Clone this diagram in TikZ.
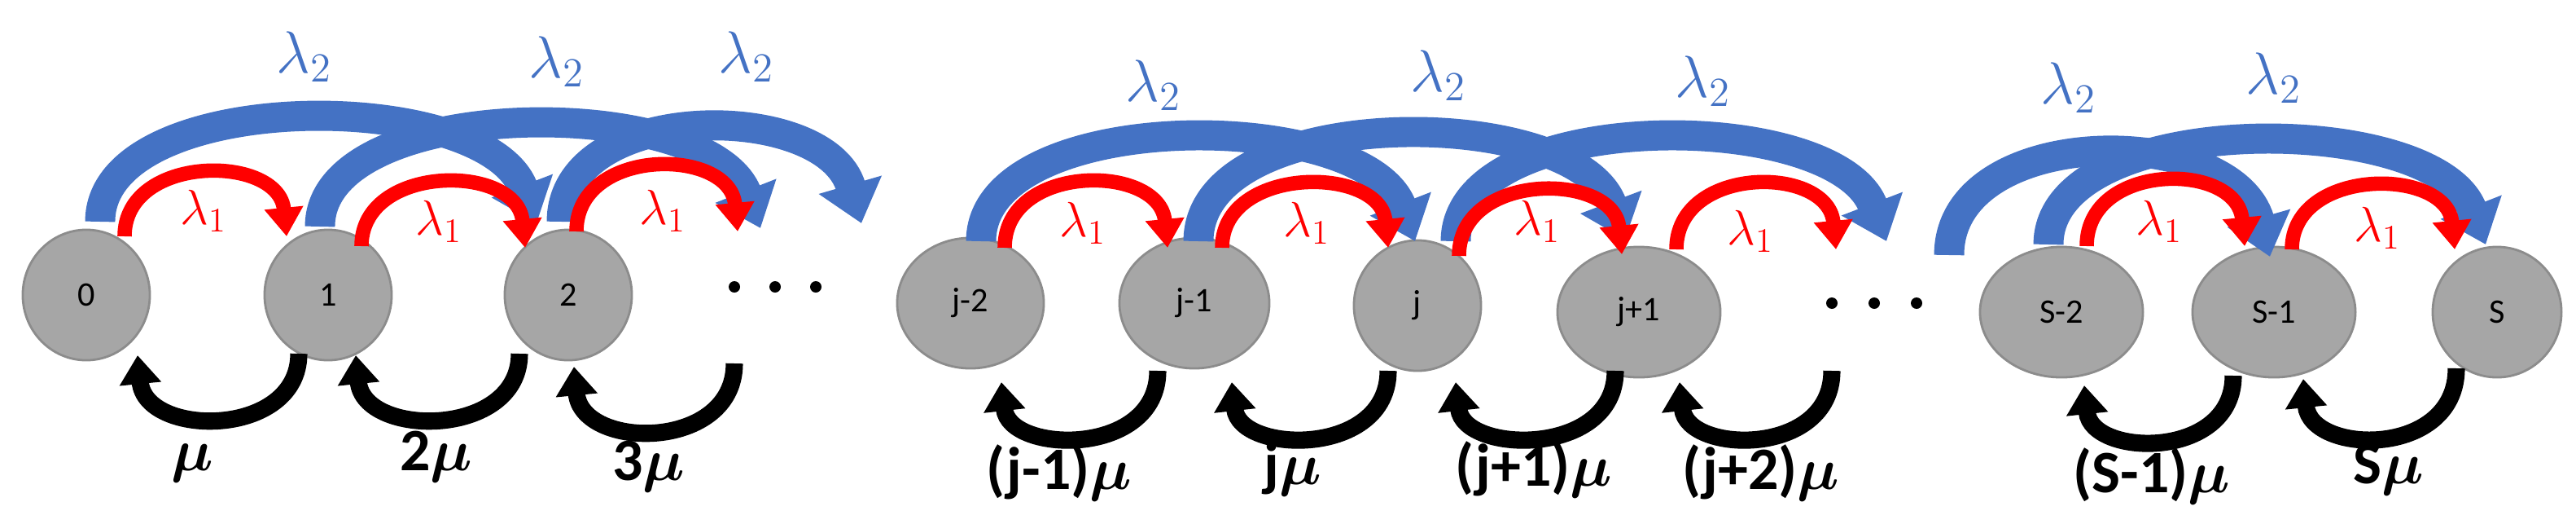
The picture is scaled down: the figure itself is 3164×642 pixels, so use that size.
\documentclass[tikz,border=0pt]{standalone}
\usepackage{fontspec}
\setmainfont{Carlito}
\usetikzlibrary{arrows.meta,shapes.geometric}
\definecolor{bl}{HTML}{4472C4}
\definecolor{gr}{HTML}{A6A6A6}
\definecolor{grb}{HTML}{8C8C8C}
\newcommand\myarc[7]{% style, sx, sy, top, ex, ey, shift
  \draw[#1] (#2,#3) .. controls (#2,{#3-4/3*(#3-(#4))}) and ({#5-#7*(#5-#2)},{#6-4/3*(#6-(#4))}) .. (#5,#6);}
\newcommand\blarc[5]{\myarc{blarr}{#1}{#2}{#3+18}{#4}{#5}{0.12}}
\begin{document}
\begin{tikzpicture}[x=0.01cm,y=-0.01cm,
  st/.style={ellipse,fill=gr,draw=grb,line width=0.8pt,inner sep=0pt,font=\fontsize{12}{14}\selectfont},
  blarr/.style={bl,line width=10.5pt,-{Triangle[width=22pt,length=14pt]}},
  rdarr/.style={red,line width=5pt,-{Triangle[width=13pt,length=10pt]}},
  bkarr/.style={black,line width=6pt,-{Triangle[width=14pt,length=10pt]}},
  lb2/.style={bl,font=\fontsize{21}{24}\selectfont},
  lb1/.style={red,font=\fontsize{17}{20}\selectfont},
  lbm/.style={font=\fontsize{21}{24}\selectfont\bfseries\boldmath}]
\useasboundingbox (0,0) rectangle (3164,642);
% nodes
\node[st,minimum width=1.56cm,minimum height=1.6cm] (n0) at (106,362) {0};
\node[st,minimum width=1.56cm,minimum height=1.6cm] (n1) at (403,362) {1};
\node[st,minimum width=1.56cm,minimum height=1.6cm] (n2) at (698,362) {2};
\node[st,minimum width=1.8cm,minimum height=1.6cm] (j2) at (1192,372) {j-2};
\node[st,minimum width=1.84cm,minimum height=1.6cm] (j1) at (1467,372) {j-1};
\node[st,minimum width=1.56cm,minimum height=1.6cm] (j) at (1741,375) {j};
\node[st,minimum width=2.0cm,minimum height=1.6cm] (jp) at (2013,383) {j+1};
\node[st,minimum width=2.0cm,minimum height=1.6cm] (s2) at (2532,383) {S-2};
\node[st,minimum width=2.0cm,minimum height=1.6cm] (s1) at (2793,383) {S-1};
\node[st,minimum width=1.58cm,minimum height=1.6cm] (s) at (3067,383) {S};
% dots
\foreach \x in {902,952,1002} \fill (\x,352) circle (7);
\foreach \x in {2250,2302,2354} \fill (\x,372) circle (7);
% blue arrows
\blarc{123}{272}{130}{659}{274}
\blarc{393}{278}{138}{934}{280}
\blarc{690}{272}{142}{1058}{274}
\blarc{1205}{296}{154}{1738}{296}
\blarc{1472}{296}{150}{1996}{294}
\blarc{1788}{296}{154}{2317}{296}
\blarc{2394}{313}{173}{2788}{315}
\blarc{2516}{300}{158}{3053}{300}
% red arrows
\myarc{rdarr}{153}{290}{214}{352}{290}{0.05}
\myarc{rdarr}{444}{302}{226}{645}{304}{0.05}
\myarc{rdarr}{708}{284}{206}{906}{284}{0.05}
\myarc{rdarr}{1234}{304}{226}{1434}{304}{0.05}
\myarc{rdarr}{1501}{304}{228}{1705}{304}{0.05}
\myarc{rdarr}{1792}{314}{236}{1992}{312}{0.05}
\myarc{rdarr}{2059}{306}{228}{2255}{306}{0.05}
\myarc{rdarr}{2563}{302}{224}{2757}{302}{0.05}
\myarc{rdarr}{2815}{306}{230}{3015}{306}{0.05}
% black arrows
\myarc{bkarr}{367}{434}{512}{169}{436}{0.05}
\myarc{bkarr}{638}{434}{512}{437}{436}{0.05}
\myarc{bkarr}{902}{446}{527}{705}{450}{0.05}
\myarc{bkarr}{1422}{455}{535}{1230}{469}{0.05}
\myarc{bkarr}{1705}{455}{535}{1513}{469}{0.05}
\myarc{bkarr}{1984}{455}{535}{1788}{469}{0.05}
\myarc{bkarr}{2250}{455}{535}{2063}{469}{0.05}
\myarc{bkarr}{2743}{461}{539}{2560}{473}{0.05}
\myarc{bkarr}{3017}{452}{535}{2829}{465}{0.05}
% lambda2 labels
\foreach \x/\y [count=\i] in {374/70,684/76,917/70,1417/105,1767/93,2092/100,2541/108,2793/96}
  \node[lb2] (l2\i) at (\x,\y) {$\lambda_2$};
% lambda1 labels
\foreach \x/\y [count=\i] in {250/259,539/272,814/259,1330/274,1605/274,1888/272,2150/284,2652/272,2920/280}
  \node[lb1] (l1\i) at (\x,\y) {$\lambda_1$};
% mu labels
\node[lbm] (m1) at (236,568) {$\mu$};
\node[lbm] (m2) at (536,560) {2$\mu$};
\node[lbm] (m3) at (797,572) {3$\mu$};
\node[lbm] (m4) at (1301,580) {(j-1)$\mu$};
\node[lbm] (m5) at (1588,576) {j$\mu$};
\node[lbm] (m6) at (1884,576) {(j+1)$\mu$};
\node[lbm] (m7) at (2163,580) {(j+2)$\mu$};
\node[lbm] (m8) at (2643,584) {(S-1)$\mu$};
\node[lbm] (m9) at (2934,576) {S$\mu$};
\end{tikzpicture}
\end{document}
